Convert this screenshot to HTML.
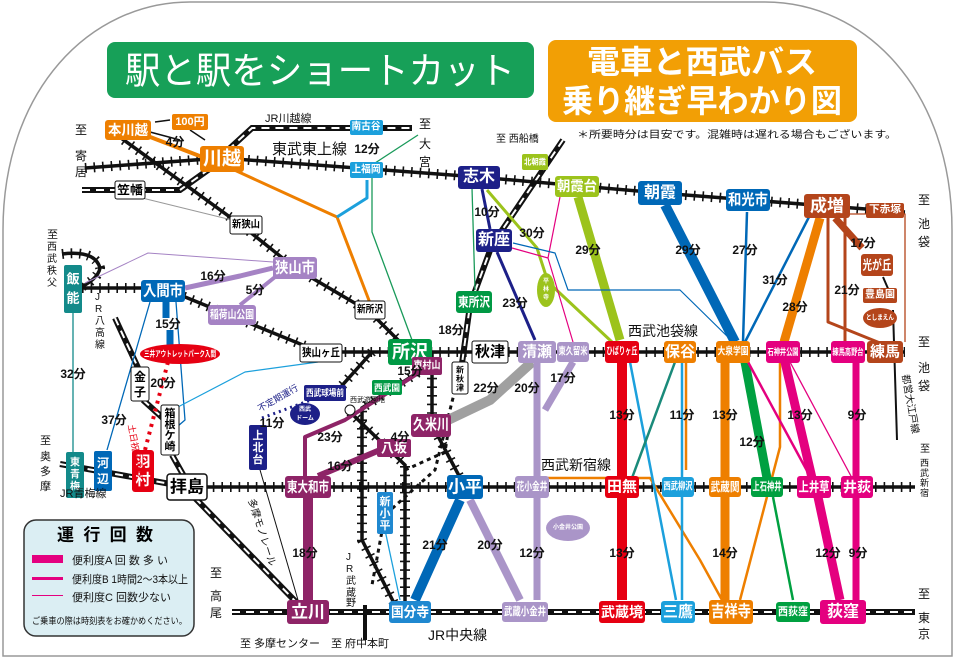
<!DOCTYPE html>
<html><head><meta charset="utf-8"><style>
html,body{margin:0;padding:0;background:#fff}
svg{display:block}
text{font-family:"Liberation Sans","Noto Sans CJK JP",sans-serif}
.s{fill:#fff;font-weight:bold;text-anchor:middle;dominant-baseline:central}
.b{fill:#000;font-weight:bold;text-anchor:middle;dominant-baseline:central}
.m{fill:#111;font-weight:bold;font-size:12px;text-anchor:middle;dominant-baseline:central}
.t{stroke:#111;fill:none;stroke-width:3.5}
.tk{stroke:#111;fill:none;stroke-width:10;stroke-dasharray:1.6 7}
.jr{stroke:#111;fill:none;stroke-width:6}
.jrw{stroke:#fff;fill:none;stroke-width:2;stroke-dasharray:8 6}
</style></head><body>
<svg width="955" height="658" viewBox="0 0 955 658" xmlns="http://www.w3.org/2000/svg">
<path d="M3,656 V230 C3,90 90,2 190,2 H765 C865,2 952,90 952,230 V656 Z" fill="#fff" stroke="#999" stroke-width="1.5"/>

<rect x="107" y="42" width="427" height="56" rx="8" fill="#17a058"/>
<text x="320" y="71" class="s" style="font-weight:normal" font-size="37" textLength="390" lengthAdjust="spacingAndGlyphs">駅と駅をショートカット</text>
<rect x="548" y="40" width="309" height="82" rx="8" fill="#f29f05"/>
<text x="702" y="62" class="s" font-size="32" textLength="230" lengthAdjust="spacingAndGlyphs">電車と西武バス</text>
<text x="702" y="101" class="s" font-size="32" textLength="280" lengthAdjust="spacingAndGlyphs">乗り継ぎ早わかり図</text>
<text x="577" y="138" font-size="10" fill="#111" textLength="320" lengthAdjust="spacingAndGlyphs">＊所要時分は目安です。混雑時は遅れる場合もございます。</text>

<path class="jr" d="M228,150 L252,128 H412"/><path class="jrw" d="M228,150 L252,128 H412"/>
<path class="jr" d="M82,190 H180 L215,165"/><path class="jrw" d="M82,190 H180 L215,165"/>
<path class="jr" d="M115,318 L140,372 M143,400 L165,420 M172,455 L185,478"/><path class="jrw" d="M115,318 L140,372 M143,400 L165,420 M172,455 L185,478"/>
<path class="jr" d="M60,464 L187,487"/><path class="jrw" d="M60,464 L187,487"/>
<path class="jr" d="M195,498 L297,603"/><path class="jrw" d="M195,498 L297,603"/>
<path class="jr" d="M232,612 H915"/><path class="jrw" d="M232,612 H915"/>
<path class="jr" d="M563,140 L492,245 L470,305 L460,378"/><path class="jrw" d="M563,140 L492,245 L470,305 L460,378"/>
<path d="M455,390 L435,470 L385,515 L372,585" stroke="#111" stroke-width="3" stroke-dasharray="4 4" fill="none"/>
<path d="M365,605 V640" stroke="#111" stroke-width="4"/>

<g>
<path class="t" d="M85,168 L222,158 L478,177 L660,193 L827,206 L905,212"/>
<path class="tk" d="M85,168 L222,158 L478,177 L660,193 L827,206 L905,212"/>
<path class="t" d="M110,130 L245,228 L295,268 L370,312 L410,352"/>
<path class="tk" d="M110,130 L245,228 L295,268 L370,312 L410,352"/>
<path class="t" d="M82,288 H163 L320,352 H905"/>
<path class="tk" d="M82,288 H163 L320,352 H905"/>
<path class="t" d="M62,254 Q95,250 100,268 Q98,280 75,290"/>
<path class="tk" d="M62,254 Q95,250 100,268 Q98,280 75,290"/>
<path class="t" d="M187,487 H915"/>
<path class="tk" d="M187,487 H915"/>
<path class="t" d="M432,352 V425 L465,487"/>
<path class="tk" d="M432,352 V425 L465,487"/>
<path class="t" d="M425,368 L362,408 V540 L395,605"/>
<path class="tk" d="M425,368 L362,408 V540 L395,605"/>
<path class="t" d="M350,412 L405,465 V605"/>
<path class="tk" d="M350,412 L405,465 V605"/>
<path class="t" d="M372,352 L338,390"/>
<path class="tk" d="M372,352 L338,390"/>
</g>
<path d="M405,470 L445,452 L450,420" stroke="#111" stroke-width="3" stroke-dasharray="4 4" fill="none"/>

<g fill="none" stroke-linejoin="round">
<path d="M230,168 L337,217 L370,303" stroke="#ee7f00" stroke-width="3"/>
<path d="M367,180 V198 L337,217" stroke="#1ca0dc" stroke-width="3"/>
<path d="M372,178 V232 L412,340 M418,135 L372,165" stroke="#1a9a5a" stroke-width="1.3"/>
<path d="M130,195 L240,222" stroke="#999" stroke-width="1"/>
<path d="M85,283 L148,253 L273,262" stroke="#a583c4" stroke-width="1"/>
<path d="M185,288 L240,276 L273,268" stroke="#a583c4" stroke-width="5"/>
<path d="M240,305 L275,277" stroke="#a583c4" stroke-width="4"/>
<path d="M166,302 V318 M170,330 V346" stroke="#0068b7" stroke-width="7"/>
<path d="M168,362 L145,450" stroke="#e60012" stroke-width="4" stroke-dasharray="3 5"/>
<path d="M150,302 L107,450 M176,302 L185,420 L178,426" stroke="#0068b7" stroke-width="1.3"/>
<path d="M73,310 V455" stroke="#138a8a" stroke-width="1.3"/>
<path d="M318,362 L245,372 L176,408" stroke="#1ca0dc" stroke-width="1.2"/>
<path d="M482,189 L490,229 M497,252 L535,340" stroke="#1d2088" stroke-width="3"/>
<path d="M472,188 L475,290" stroke="#1a9a5a" stroke-width="1.3"/>
<path d="M487,190 L537,248 L548,282 L612,342" stroke="#9cc31c" stroke-width="3"/>
<path d="M578,197 L620,340" stroke="#9cc31c" stroke-width="9"/>
<path d="M512,248 L548,258 L573,342 M560,197 L548,258" stroke="#e4007f" stroke-width="1.2"/>
<path d="M513,243 L555,253 L568,290 L680,290 L733,342" stroke="#0068b7" stroke-width="1.2"/>
<path d="M665,205 L735,342" stroke="#0068b7" stroke-width="10"/>
<path d="M747,212 L743,342 M810,215 L745,342" stroke="#0068b7" stroke-width="2.5"/>
<path d="M820,218 L784,342" stroke="#ee7f00" stroke-width="9"/>
<path d="M780,362 V447 L740,600" stroke="#ee7f00" stroke-width="2.5"/>
<path d="M725,362 V600" stroke="#ee7f00" stroke-width="9"/>
<path d="M686,362 V470 M540,478 H650 L700,560 L722,600" stroke="#ee7f00" stroke-width="2.5"/>
<path d="M835,218 L862,248" stroke="#b4451b" stroke-width="7"/>
<path d="M828,218 V322 L885,345 M845,218 V342" stroke="#b4451b" stroke-width="3"/>
<path d="M850,214 H905 V342" stroke="#b4451b" stroke-width="1.3"/>
<path d="M883,277 L893,300 M893,310 L897,440" stroke="#111" stroke-width="2"/>
<path d="M532,362 L490,400 L448,420" stroke="#a0a0a0" stroke-width="10"/>
<path d="M537,362 V600 M573,362 L545,410" stroke="#aa95c8" stroke-width="7"/>
<path d="M470,500 L520,600" stroke="#aa95c8" stroke-width="8"/>
<path d="M622,362 V600" stroke="#e60012" stroke-width="10"/>
<path d="M630,362 L676,600 M682,362 V600" stroke="#1ca0dc" stroke-width="2.5"/>
<path d="M675,362 L632,478" stroke="#1a8a7a" stroke-width="2.5"/>
<path d="M745,362 L767,478" stroke="#00a040" stroke-width="9"/>
<path d="M773,497 L793,600" stroke="#00a040" stroke-width="2.5"/>
<path d="M785,362 L812,478 M818,497 L840,600" stroke="#e4007f" stroke-width="9"/>
<path d="M748,362 L812,480" stroke="#e4007f" stroke-width="2.5"/>
<path d="M790,362 L852,478" stroke="#e4007f" stroke-width="1.3"/>
<path d="M856,362 V600" stroke="#e4007f" stroke-width="7"/>
<path d="M308,498 V600" stroke="#8e2467" stroke-width="10"/>
<path d="M305,476 V437 L345,420 L420,372" stroke="#8e2467" stroke-width="4"/>
<path d="M318,476 L380,450" stroke="#8e2467" stroke-width="6"/>
<path d="M415,600 L460,500" stroke="#0068b7" stroke-width="10"/>
<path d="M385,530 L400,600" stroke="#1ca0dc" stroke-width="1.3"/>
<path d="M258,463 L298,600 M290,600 L300,608" stroke="#111" stroke-width="1"/>
<path d="M262,418 L330,393" stroke="#1d2088" stroke-width="3" stroke-dasharray="2 4"/>
<path d="M150,132 L180,140 M190,130 L205,140 M170,120 L155,122" stroke="#111" stroke-width="1.5"/>
<path d="M145,135 L210,160" stroke="#ee7f00" stroke-width="4"/>
</g>

<ellipse cx="180" cy="354" rx="40" ry="10" fill="#e60012"/><text x="180" y="354" class="s" font-size="8" textLength="72" lengthAdjust="spacingAndGlyphs">三井アウトレットパーク入間</text>
<ellipse cx="305" cy="414" rx="15" ry="11" fill="#1d2088"/><text x="305" y="410" class="s" font-size="6">西武</text><text x="305" y="419" class="s" font-size="6">ドーム</text>
<ellipse cx="546" cy="290" rx="9" ry="17" fill="#9cc31c"/><text x="546" y="282" class="s" font-size="6">平</text><text x="546" y="290" class="s" font-size="6">林</text><text x="546" y="298" class="s" font-size="6">寺</text>
<ellipse cx="568" cy="528" rx="22" ry="13" fill="#aa95c8"/><text x="568" y="528" class="s" font-size="6">小金井公園</text>
<ellipse cx="880" cy="318" rx="17" ry="10" fill="#b4451b"/><text x="880" y="318" class="s" font-size="7" textLength="28" lengthAdjust="spacingAndGlyphs">としまえん</text>
<circle cx="350" cy="410" r="5" fill="#fff" stroke="#111"/><text x="350" y="402" font-size="7" fill="#111">西武遊園地</text>

<g>
<rect x="105" y="120" width="46" height="20" rx="3" fill="#ee7f00"/><text x="128" y="130" class="s" font-size="14" textLength="40" lengthAdjust="spacingAndGlyphs">本川越</text>
<rect x="172" y="114" width="36" height="16" rx="2" fill="#ee7f00"/><text x="190" y="122" class="s" font-size="11">100円</text>
<rect x="200" y="146" width="44" height="26" rx="3" fill="#ee7f00"/><text x="222" y="159" class="s" font-size="19">川越</text>
<rect x="115" y="181" width="30" height="18" rx="2" fill="#fff" stroke="#111"/><text x="130" y="190" class="b" font-size="12" textLength="26" lengthAdjust="spacingAndGlyphs">笠幡</text>
<rect x="350" y="120" width="33" height="15" rx="2" fill="#1ca0dc"/><text x="366" y="127" class="s" font-size="10" textLength="29" lengthAdjust="spacingAndGlyphs">南古谷</text>
<rect x="350" y="162" width="33" height="16" rx="2" fill="#1ca0dc"/><text x="366" y="170" class="s" font-size="10" textLength="29" lengthAdjust="spacingAndGlyphs">上福岡</text>
<rect x="458" y="166" width="42" height="23" rx="3" fill="#1d2088"/><text x="479" y="177" class="s" font-size="16">志木</text>
<rect x="522" y="154" width="26" height="16" rx="2" fill="#9cc31c"/><text x="535" y="162" class="s" font-size="8" textLength="22" lengthAdjust="spacingAndGlyphs">北朝霞</text>
<rect x="555" y="176" width="44" height="21" rx="3" fill="#9cc31c"/><text x="577" y="186" class="s" font-size="14" textLength="40" lengthAdjust="spacingAndGlyphs">朝霞台</text>
<rect x="638" y="181" width="44" height="24" rx="3" fill="#0068b7"/><text x="660" y="193" class="s" font-size="16">朝霞</text>
<rect x="726" y="189" width="44" height="22" rx="3" fill="#0068b7"/><text x="748" y="200" class="s" font-size="15" textLength="40" lengthAdjust="spacingAndGlyphs">和光市</text>
<rect x="804" y="194" width="46" height="24" rx="3" fill="#b4451b"/><text x="827" y="206" class="s" font-size="17">成増</text>
<rect x="866" y="203" width="38" height="15" rx="2" fill="#b4451b"/><text x="885" y="210" class="s" font-size="10" textLength="32" lengthAdjust="spacingAndGlyphs">下赤塚</text>
<rect x="476" y="229" width="36" height="23" rx="3" fill="#1d2088"/><text x="494" y="240" class="s" font-size="16">新座</text>
<rect x="456" y="291" width="36" height="22" rx="3" fill="#009944"/><text x="474" y="302" class="s" font-size="13" textLength="32" lengthAdjust="spacingAndGlyphs">東所沢</text>
<rect x="230" y="216" width="32" height="18" rx="2" fill="#fff" stroke="#111"/><text x="246" y="225" class="b" font-size="10" textLength="28" lengthAdjust="spacingAndGlyphs">新狭山</text>
<rect x="273" y="257" width="44" height="22" rx="3" fill="#a583c4"/><text x="295" y="268" class="s" font-size="15" textLength="40" lengthAdjust="spacingAndGlyphs">狭山市</text>
<rect x="64" y="265" width="18" height="48" rx="2" fill="#138a8a"/><text x="73" y="279" class="s" font-size="13">飯</text><text x="73" y="298" class="s" font-size="13">能</text>
<rect x="141" y="280" width="44" height="22" rx="3" fill="#0068b7"/><text x="163" y="291" class="s" font-size="15" textLength="40" lengthAdjust="spacingAndGlyphs">入間市</text>
<rect x="208" y="305" width="48" height="20" rx="3" fill="#a583c4"/><text x="232" y="315" class="s" font-size="11" textLength="44" lengthAdjust="spacingAndGlyphs">稲荷山公園</text>
<rect x="355" y="301" width="30" height="18" rx="2" fill="#fff" stroke="#111"/><text x="370" y="310" class="b" font-size="10" textLength="26" lengthAdjust="spacingAndGlyphs">新所沢</text>
<rect x="300" y="344" width="42" height="18" rx="2" fill="#fff" stroke="#111"/><text x="321" y="353" class="b" font-size="11" textLength="38" lengthAdjust="spacingAndGlyphs">狭山ヶ丘</text>
<rect x="388" y="339" width="44" height="26" rx="3" fill="#009944"/><text x="410" y="352" class="s" font-size="18">所沢</text>
<rect x="472" y="341" width="36" height="22" rx="2" fill="#fff" stroke="#111"/><text x="490" y="352" class="b" font-size="15">秋津</text>
<rect x="452" y="362" width="16" height="32" rx="2" fill="#fff" stroke="#111"/><text x="460" y="370" class="b" font-size="8">新</text><text x="460" y="379" class="b" font-size="8">秋</text><text x="460" y="388" class="b" font-size="8">津</text>
<rect x="518" y="341" width="38" height="22" rx="3" fill="#aa95c8"/><text x="537" y="352" class="s" font-size="15">清瀬</text>
<rect x="557" y="342" width="32" height="20" rx="3" fill="#aa95c8"/><text x="573" y="352" class="s" font-size="10" textLength="29" lengthAdjust="spacingAndGlyphs">東久留米</text>
<rect x="605" y="341" width="34" height="22" rx="3" fill="#e60012"/><text x="622" y="352" class="s" font-size="10" textLength="31" lengthAdjust="spacingAndGlyphs">ひばりヶ丘</text>
<rect x="664" y="341" width="32" height="22" rx="3" fill="#ee7f00"/><text x="680" y="352" class="s" font-size="15">保谷</text>
<rect x="716" y="341" width="34" height="22" rx="3" fill="#ee7f00"/><text x="733" y="352" class="s" font-size="10" textLength="31" lengthAdjust="spacingAndGlyphs">大泉学園</text>
<rect x="766" y="341" width="34" height="22" rx="3" fill="#e4007f"/><text x="783" y="352" class="s" font-size="9" textLength="31" lengthAdjust="spacingAndGlyphs">石神井公園</text>
<rect x="831" y="341" width="34" height="22" rx="3" fill="#e4007f"/><text x="848" y="352" class="s" font-size="9" textLength="31" lengthAdjust="spacingAndGlyphs">練馬高野台</text>
<rect x="867" y="341" width="36" height="22" rx="3" fill="#b4451b"/><text x="885" y="352" class="s" font-size="15">練馬</text>
<rect x="861" y="254" width="32" height="22" rx="3" fill="#b4451b"/><text x="877" y="265" class="s" font-size="13" textLength="29" lengthAdjust="spacingAndGlyphs">光が丘</text>
<rect x="863" y="288" width="34" height="15" rx="2" fill="#b4451b"/><text x="880" y="295" class="s" font-size="10" textLength="30" lengthAdjust="spacingAndGlyphs">豊島園</text>
<rect x="131" y="367" width="18" height="34" rx="2" fill="#fff" stroke="#111"/><text x="140" y="377" class="b" font-size="12">金</text><text x="140" y="392" class="b" font-size="12">子</text>
<rect x="161" y="405" width="18" height="50" rx="2" fill="#fff" stroke="#111"/><text x="170" y="414" class="b" font-size="11">箱</text><text x="170" y="425" class="b" font-size="11">根</text><text x="170" y="436" class="b" font-size="11">ケ</text><text x="170" y="447" class="b" font-size="11">崎</text>
<rect x="304" y="385" width="42" height="16" rx="2" fill="#1d2088"/><text x="325" y="393" class="s" font-size="9" textLength="38" lengthAdjust="spacingAndGlyphs">西武球場前</text>
<rect x="372" y="380" width="30" height="15" rx="2" fill="#009944"/><text x="387" y="388" class="s" font-size="9" textLength="26" lengthAdjust="spacingAndGlyphs">西武園</text>
<rect x="412" y="357" width="30" height="18" rx="2" fill="#8e2467"/><text x="427" y="366" class="s" font-size="10" textLength="27" lengthAdjust="spacingAndGlyphs">東村山</text>
<rect x="411" y="414" width="40" height="23" rx="3" fill="#8e2467"/><text x="431" y="425" class="s" font-size="15" textLength="36" lengthAdjust="spacingAndGlyphs">久米川</text>
<rect x="377" y="439" width="34" height="18" rx="2" fill="#8e2467"/><text x="394" y="448" class="s" font-size="13">八坂</text>
<rect x="249" y="425" width="18" height="45" rx="2" fill="#1d2088"/><text x="258" y="436" class="s" font-size="11">上</text><text x="258" y="448" class="s" font-size="11">北</text><text x="258" y="460" class="s" font-size="11">台</text>
<rect x="66" y="452" width="18" height="46" rx="2" fill="#138a8a"/><text x="75" y="463" class="s" font-size="10">東</text><text x="75" y="475" class="s" font-size="10">青</text><text x="75" y="487" class="s" font-size="10">梅</text>
<rect x="94" y="451" width="18" height="40" rx="2" fill="#0068b7"/><text x="103" y="463" class="s" font-size="12">河</text><text x="103" y="479" class="s" font-size="12">辺</text>
<rect x="132" y="450" width="22" height="42" rx="3" fill="#e60012"/><text x="143" y="462" class="s" font-size="15">羽</text><text x="143" y="480" class="s" font-size="15">村</text>
<rect x="167" y="474" width="40" height="26" rx="3" fill="#fff" stroke="#111" stroke-width="1.5"/><text x="187" y="487" class="b" font-size="17">拝島</text>
<rect x="285" y="476" width="46" height="22" rx="3" fill="#8e2467"/><text x="308" y="487" class="s" font-size="14" textLength="42" lengthAdjust="spacingAndGlyphs">東大和市</text>
<rect x="377" y="492" width="16" height="42" rx="2" fill="#1f88d0"/><text x="385" y="502" class="s" font-size="11">新</text><text x="385" y="514" class="s" font-size="11">小</text><text x="385" y="526" class="s" font-size="11">平</text>
<rect x="447" y="475" width="36" height="24" rx="3" fill="#0068b7"/><text x="465" y="487" class="s" font-size="17">小平</text>
<rect x="515" y="476" width="34" height="22" rx="3" fill="#aa95c8"/><text x="532" y="487" class="s" font-size="11" textLength="31" lengthAdjust="spacingAndGlyphs">花小金井</text>
<rect x="605" y="476" width="34" height="22" rx="3" fill="#e60012"/><text x="622" y="487" class="s" font-size="15">田無</text>
<rect x="662" y="477" width="32" height="20" rx="3" fill="#1ca0dc"/><text x="678" y="487" class="s" font-size="10" textLength="29" lengthAdjust="spacingAndGlyphs">西武柳沢</text>
<rect x="709" y="477" width="32" height="20" rx="3" fill="#ee7f00"/><text x="725" y="487" class="s" font-size="12" textLength="29" lengthAdjust="spacingAndGlyphs">武蔵関</text>
<rect x="751" y="477" width="32" height="20" rx="3" fill="#00a040"/><text x="767" y="487" class="s" font-size="11" textLength="29" lengthAdjust="spacingAndGlyphs">上石神井</text>
<rect x="797" y="476" width="34" height="22" rx="3" fill="#e4007f"/><text x="814" y="487" class="s" font-size="13" textLength="31" lengthAdjust="spacingAndGlyphs">上井草</text>
<rect x="841" y="476" width="32" height="22" rx="3" fill="#e4007f"/><text x="857" y="487" class="s" font-size="14">井荻</text>
<rect x="287" y="600" width="42" height="24" rx="3" fill="#8e2467"/><text x="308" y="612" class="s" font-size="17">立川</text>
<rect x="389" y="601" width="42" height="22" rx="3" fill="#1f88d0"/><text x="410" y="612" class="s" font-size="14" textLength="38" lengthAdjust="spacingAndGlyphs">国分寺</text>
<rect x="502" y="602" width="46" height="20" rx="3" fill="#aa95c8"/><text x="525" y="612" class="s" font-size="11" textLength="42" lengthAdjust="spacingAndGlyphs">武蔵小金井</text>
<rect x="599" y="601" width="46" height="22" rx="3" fill="#e60012"/><text x="622" y="612" class="s" font-size="14" textLength="42" lengthAdjust="spacingAndGlyphs">武蔵境</text>
<rect x="661" y="601" width="34" height="22" rx="3" fill="#1ca0dc"/><text x="678" y="612" class="s" font-size="15">三鷹</text>
<rect x="709" y="600" width="44" height="24" rx="3" fill="#ee7f00"/><text x="731" y="612" class="s" font-size="16" textLength="40" lengthAdjust="spacingAndGlyphs">吉祥寺</text>
<rect x="776" y="602" width="34" height="20" rx="3" fill="#00a040"/><text x="793" y="612" class="s" font-size="11" textLength="30" lengthAdjust="spacingAndGlyphs">西荻窪</text>
<rect x="820" y="600" width="46" height="24" rx="3" fill="#e4007f"/><text x="843" y="612" class="s" font-size="16">荻窪</text>
</g>

<g class="m">
<text x="175" y="142" class="m">4分</text><text x="367" y="149" class="m" font-size="10">12分</text>
<text x="213" y="276" class="m">16分</text><text x="255" y="290" class="m">5分</text>
<text x="168" y="324" class="m">15分</text><text x="163" y="383" class="m">20分</text>
<text x="73" y="374" class="m">32分</text><text x="114" y="420" class="m">37分</text>
<text x="487" y="212" class="m">10分</text><text x="532" y="233" class="m">30分</text>
<text x="515" y="303" class="m">23分</text><text x="451" y="330" class="m">18分</text>
<text x="410" y="371" class="m" font-size="10">15分</text>
<text x="588" y="250" class="m">29分</text><text x="688" y="250" class="m">29分</text><text x="745" y="250" class="m">27分</text>
<text x="775" y="280" class="m">31分</text><text x="795" y="307" class="m">28分</text>
<text x="863" y="243" class="m">17分</text><text x="847" y="290" class="m">21分</text>
<text x="486" y="388" class="m">22分</text><text x="527" y="388" class="m">20分</text><text x="563" y="378" class="m">17分</text>
<text x="272" y="423" class="m" font-size="10">11分</text><text x="330" y="437" class="m">23分</text>
<text x="400" y="437" class="m">4分</text><text x="340" y="466" class="m">16分</text>
<text x="622" y="415" class="m">13分</text><text x="682" y="415" class="m">11分</text><text x="725" y="415" class="m">13分</text>
<text x="752" y="442" class="m">12分</text><text x="800" y="415" class="m">13分</text><text x="857" y="415" class="m">9分</text>
<text x="305" y="553" class="m">18分</text><text x="435" y="545" class="m">21分</text><text x="490" y="545" class="m">20分</text>
<text x="532" y="553" class="m">12分</text><text x="622" y="553" class="m">13分</text><text x="725" y="553" class="m">14分</text>
<text x="828" y="553" class="m">12分</text><text x="858" y="553" class="m">9分</text>
</g>

<g fill="#111" font-size="12">
<text x="265" y="122" font-size="11">JR川越線</text>
<text x="272" y="154" font-size="15">東武東上線</text>
<text x="496" y="142" font-size="10">至 西船橋</text>
<text x="628" y="336" font-size="14">西武池袋線</text>
<text x="541" y="470" font-size="14">西武新宿線</text>
<text x="428" y="640" font-size="14">JR中央線</text>
<text x="75" y="134" font-size="12">至</text><text x="75" y="160">寄</text><text x="75" y="176">居</text>
<text x="419" y="128">至</text><text x="419" y="148">大</text><text x="419" y="166">宮</text>
<text x="918" y="204">至</text><text x="918" y="228">池</text><text x="918" y="246">袋</text>
<text x="918" y="346">至</text><text x="918" y="372">池</text><text x="918" y="390">袋</text>
<text x="920" y="452" font-size="10">至</text><text x="920" y="466" font-size="9">西</text><text x="920" y="476" font-size="9">武</text><text x="920" y="486" font-size="9">新</text><text x="920" y="496" font-size="9">宿</text>
<text x="918" y="598">至</text><text x="918" y="622">東</text><text x="918" y="638">京</text>
<text x="210" y="577">至</text><text x="210" y="600">高</text><text x="210" y="617">尾</text>
<text x="240" y="647" font-size="11">至 多摩センター</text>
<text x="331" y="647" font-size="11">至 府中本町</text>
<text x="40" y="444" font-size="11">至</text><text x="40" y="460" font-size="11">奥</text><text x="40" y="475" font-size="11">多</text><text x="40" y="490" font-size="11">摩</text>
<text x="60" y="497" font-size="11">JR青梅線</text>
<text x="47" y="238" font-size="11">至</text><text x="47" y="250" font-size="10">西</text><text x="47" y="262" font-size="10">武</text><text x="47" y="274" font-size="10">秩</text><text x="47" y="286" font-size="10">父</text>
<text x="95" y="300" font-size="10">J</text><text x="95" y="312" font-size="10">R</text><text x="95" y="324" font-size="10">八</text><text x="95" y="336" font-size="10">高</text><text x="95" y="348" font-size="10">線</text>
<text x="346" y="560" font-size="10">J</text><text x="346" y="572" font-size="10">R</text><text x="346" y="584" font-size="10">武</text><text x="346" y="596" font-size="10">蔵</text><text x="346" y="606" font-size="10">野</text>
<text transform="translate(248,500) rotate(72)" font-size="10">多摩モノレール</text>
<text transform="translate(902,375) rotate(80)" font-size="10">都営大江戸線</text>
<text transform="translate(128,425) rotate(80)" font-size="9" fill="#e60012">土日祝日のみ</text>
<text transform="translate(260,412) rotate(-30)" font-size="9" fill="#1d2088">不定期運行</text>
</g>

<rect x="24" y="520" width="170" height="116" rx="12" fill="#dbeef3" stroke="#333" stroke-width="1.5"/>
<text x="105" y="535" class="b" font-size="17" textLength="96">運行回数</text>
<rect x="32" y="555" width="31" height="8" fill="#e4007f"/>
<rect x="32" y="577" width="31" height="3" fill="#e4007f"/>
<rect x="32" y="595" width="31" height="1" fill="#e4007f"/>
<g fill="#111" font-size="11">
<text x="72" y="564">便利度A 回 数 多 い</text>
<text x="72" y="583" textLength="116" lengthAdjust="spacingAndGlyphs">便利度B 1時間2～3本以上</text>
<text x="72" y="601">便利度C 回数少ない</text>
<text x="32" y="624" font-size="9" textLength="155" lengthAdjust="spacingAndGlyphs">ご乗車の際は時刻表をお確かめください。</text>
</g>
</svg>
</body></html>
